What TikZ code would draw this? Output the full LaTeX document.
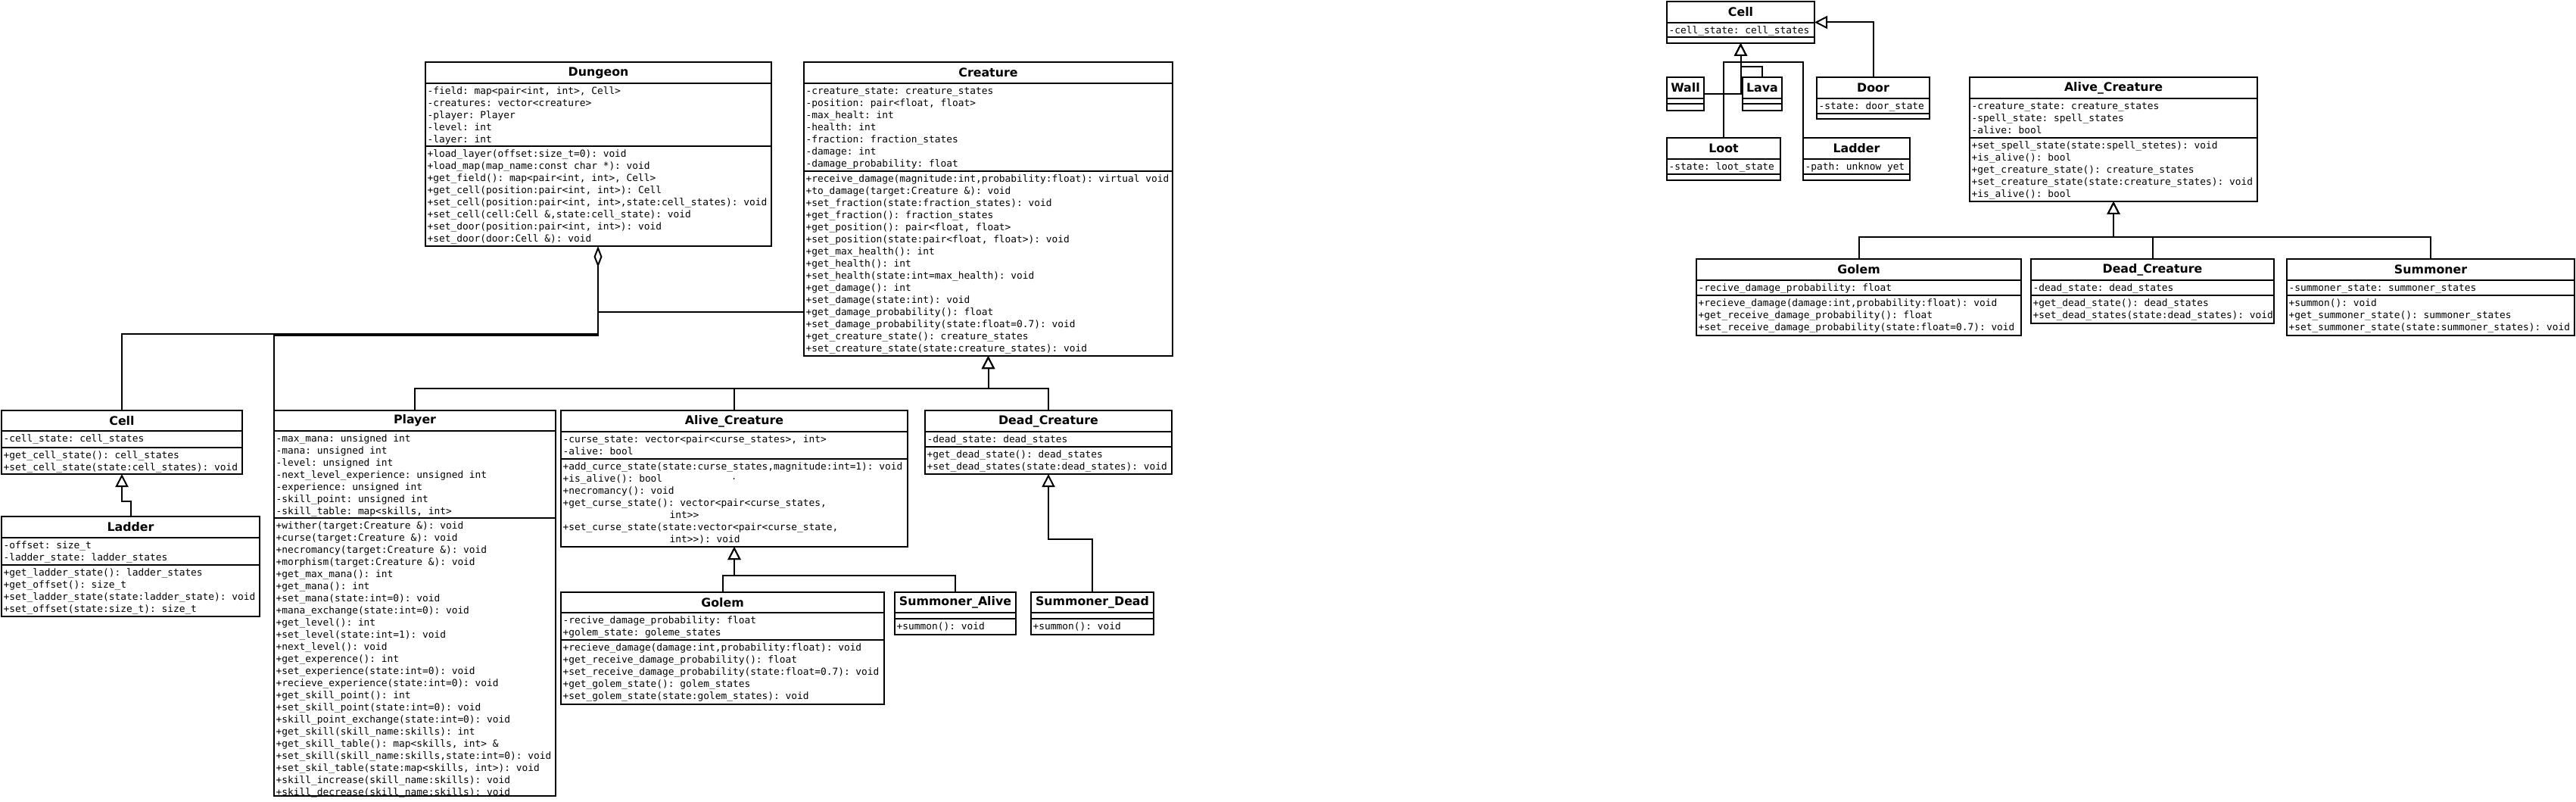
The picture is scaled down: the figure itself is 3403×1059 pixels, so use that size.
\documentclass[tikz,border=0pt]{standalone}
\usepackage{fontspec}
\newfontfamily\monof{DejaVu Sans Mono}
\newfontfamily\titlef{DejaVu Sans}
\usetikzlibrary{arrows.meta,fit}
\newcommand{\firststrut}{\rule{0pt}{12pt}}
\tikzset{
  umlbox/.style={draw, line width=2.3pt, inner sep=0pt, outer sep=0pt, rectangle},
  sepline/.style={line width=2.3pt},
  titletext/.style={inner sep=0pt, font=\titlef\bfseries\fontsize{15.8}{18}\selectfont},
  listtext/.style={anchor=north west, align=left, inner sep=0pt, font=\monof\fontsize{12.85}{16}\selectfont\frenchspacing},
  conn/.style={line width=2pt},
  inh/.style={conn, -{Triangle[length=17pt,width=17pt,fill=white]}},
  agg/.style={conn, {Diamond[length=28pt,width=11pt,fill=white]}-},
}
% #1 name, #2 x1,y1, #3 x2,y2, #4 title separator y, #5 attribute separator y, #6 title, #7 attributes, #8 methods
\newcommand{\umlclass}[8]{%
  \node[umlbox, fit={(#2) (#3)}] (#1) {};
  \draw[sepline] (#1.west |- 0,#4) -- (#1.east |- 0,#4);
  \draw[sepline] (#1.west |- 0,#5) -- (#1.east |- 0,#5);
  \path (#1.north) -- (#1.north |- 0,#4) node[midway, titletext] (#1-t) {#6};
  \pgfmathsetmacro\umlya{#4+2}%
  \pgfmathsetmacro\umlyb{#5+2}%
  \node[listtext, xshift=2.5pt] (#1-a) at (#1.west |- 0,\umlya) {\firststrut#7};
  \node[listtext, xshift=2.5pt] (#1-m) at (#1.west |- 0,\umlyb) {\firststrut#8};
}
\begin{document}
\begin{tikzpicture}[x=1pt,y=-1pt]
\fill[white] (0,0) rectangle (3403,1059);
\useasboundingbox (0,0) rectangle (3403,1059);

% ---------------- left diagram ----------------
\umlclass{dng}{562,82}{1019,325}{110}{193}{Dungeon}
{-field: map<pair<int, int>, Cell>\\
-creatures: vector<creature>\\
-player: Player\\
-level: int\\
-layer: int}
{+load\_layer(offset:size\_t=0): void\\
+load\_map(map\_name:const char *): void\\
+get\_field(): map<pair<int, int>, Cell>\\
+get\_cell(position:pair<int, int>): Cell\\
+set\_cell(position:pair<int, int>,state:cell\_states): void\\
+set\_cell(cell:Cell \&,state:cell\_state): void\\
+set\_door(position:pair<int, int>): void\\
+set\_door(door:Cell \&): void}

\umlclass{crt}{1062,82}{1549,470}{110}{226}{Creature}
{-creature\_state: creature\_states\\
-position: pair<float, float>\\
-max\_healt: int\\
-health: int\\
-fraction: fraction\_states\\
-damage: int\\
-damage\_probability: float}
{+receive\_damage(magnitude:int,probability:float): virtual void\\
+to\_damage(target:Creature \&): void\\
+set\_fraction(state:fraction\_states): void\\
+get\_fraction(): fraction\_states\\
+get\_position(): pair<float, float>\\
+set\_position(state:pair<float, float>): void\\
+get\_max\_health(): int\\
+get\_health(): int\\
+set\_health(state:int=max\_health): void\\
+get\_damage(): int\\
+set\_damage(state:int): void\\
+get\_damage\_probability(): float\\
+set\_damage\_probability(state:float=0.7): void\\
+get\_creature\_state(): creature\_states\\
+set\_creature\_state(state:creature\_states): void}

\umlclass{cellL}{2,542}{320,626}{569}{591}{Cell}
{-cell\_state: cell\_states}
{+get\_cell\_state(): cell\_states\\
+set\_cell\_state(state:cell\_states): void}

\umlclass{ladL}{2,682}{343,814}{710}{746}{Ladder}
{-offset: size\_t\\
-ladder\_state: ladder\_states}
{+get\_ladder\_state(): ladder\_states\\
+get\_offset(): size\_t\\
+set\_ladder\_state(state:ladder\_state): void\\
+set\_offset(state:size\_t): size\_t}

\umlclass{ply}{362,542}{734,1051}{569}{684}{Player}
{-max\_mana: unsigned int\\
-mana: unsigned int\\
-level: unsigned int\\
-next\_level\_experience: unsigned int\\
-experience: unsigned int\\
-skill\_point: unsigned int\\
-skill\_table: map<skills, int>}
{+wither(target:Creature \&): void\\
+curse(target:Creature \&): void\\
+necromancy(target:Creature \&): void\\
+morphism(target:Creature \&): void\\
+get\_max\_mana(): int\\
+get\_mana(): int\\
+set\_mana(state:int=0): void\\
+mana\_exchange(state:int=0): void\\
+get\_level(): int\\
+set\_level(state:int=1): void\\
+next\_level(): void\\
+get\_experence(): int\\
+set\_experience(state:int=0): void\\
+recieve\_experience(state:int=0): void\\
+get\_skill\_point(): int\\
+set\_skill\_point(state:int=0): void\\
+skill\_point\_exchange(state:int=0): void\\
+get\_skill(skill\_name:skills): int\\
+get\_skill\_table(): map<skills, int> \&\\
+set\_skill(skill\_name:skills,state:int=0): void\\
+set\_skil\_table(state:map<skills, int>): void\\
+skill\_increase(skill\_name:skills): void\\
+skill\_decrease(skill\_name:skills): void}

\umlclass{acL}{741,542}{1199,722}{570}{606}{Alive\_Creature}
{-curse\_state: vector<pair<curse\_states>, int>\\
-alive: bool}
{+add\_curce\_state(state:curse\_states,magnitude:int=1): void\\
+is\_alive(): bool\\
+necromancy(): void\\
+get\_curse\_state(): vector<pair<curse\_states,\\
\hspace*{141pt}int>>\\
+set\_curse\_state(state:vector<pair<curse\_state,\\
\hspace*{141pt}int>>): void}
\fill (969.5,632) circle (1pt);

\umlclass{dcL}{1222,542}{1548,626}{570}{590}{Dead\_Creature}
{-dead\_state: dead\_states}
{+get\_dead\_state(): dead\_states\\
+set\_dead\_states(state:dead\_states): void}

\umlclass{glL}{741,782}{1168,930}{809}{845}{Golem}
{-recive\_damage\_probability: float\\
+golem\_state: goleme\_states}
{+recieve\_damage(damage:int,probability:float): void\\
+get\_receive\_damage\_probability(): float\\
+set\_receive\_damage\_probability(state:float=0.7): void\\
+get\_golem\_state(): golem\_states\\
+set\_golem\_state(state:golem\_states): void}

\umlclass{saL}{1182,782}{1342,838}{809}{817}{Summoner\_Alive}
{}
{+summon(): void}

\umlclass{sdL}{1362,782}{1524,838}{809}{817}{Summoner\_Dead}
{}
{+summon(): void}

% connectors, left diagram
\coordinate (dngAgg) at (790,353);
\draw[agg] (dng.south -| 790,0) -- (790,441) -- (cellL.north |- 0,441) -- (cellL.north);
\draw[conn] (dngAgg) -- (790,443) -- (ply.north west |- 0,443) -- (ply.north west);
\draw[conn] (dngAgg) |- (crt.west |- 0,412);

\draw[inh] (ply.north) -- (ply.north |- 0,513) -- (crt.south |- 0,513) -- (crt.south);
\draw[inh] (acL.north) -- (acL.north |- 0,513) -- (crt.south |- 0,513) -- (crt.south);
\draw[inh] (dcL.north) -- (dcL.north |- 0,513) -- (crt.south |- 0,513) -- (crt.south);

\draw[inh] (ladL.north) -- (ladL.north |- 0,662) -- (cellL.south |- 0,662) -- (cellL.south);

\draw[inh] (glL.north) -- (glL.north |- 0,760) -- (acL.south |- 0,760) -- (acL.south);
\draw[inh] (saL.north) -- (saL.north |- 0,760) -- (acL.south |- 0,760) -- (acL.south);

\draw[inh] (sdL.north) -- (sdL.north |- 0,712) -- (dcL.south |- 0,712) -- (dcL.south);

% ---------------- right diagram ----------------
\umlclass{cellR}{2202,2}{2397,57}{30}{49}{Cell}
{-cell\_state: cell\_states}
{}

\umlclass{wall}{2202,102}{2251,146}{130}{137}{Wall}{}{}
\umlclass{lava}{2302,102}{2354,146}{130}{137}{Lava}{}{}

\umlclass{door}{2400,102}{2549,157}{130}{150}{Door}
{-state: door\_state}
{}

\umlclass{loot}{2202,182}{2352,238}{210}{230}{Loot}
{-state: loot\_state}
{}

\umlclass{ladR}{2382,182}{2523,238}{210}{230}{Ladder}
{-path: unknow yet}
{}

\umlclass{acR}{2602,102}{2982,266}{130}{182}{Alive\_Creature}
{-creature\_state: creature\_states\\
-spell\_state: spell\_states\\
-alive: bool}
{+set\_spell\_state(state:spell\_stetes): void\\
+is\_alive(): bool\\
+get\_creature\_state(): creature\_states\\
+set\_creature\_state(state:creature\_states): void\\
+is\_alive(): bool}

\umlclass{glR}{2241,342}{2670,443}{370}{390}{Golem}
{-recive\_damage\_probability: float}
{+recieve\_damage(damage:int,probability:float): void\\
+get\_receive\_damage\_probability(): float\\
+set\_receive\_damage\_probability(state:float=0.7): void}

\umlclass{dcR}{2683,342}{3004,427}{370}{390}{Dead\_Creature}
{-dead\_state: dead\_states}
{+get\_dead\_state(): dead\_states\\
+set\_dead\_states(state:dead\_states): void}

\umlclass{smR}{3021,342}{3401,443}{370}{390}{Summoner}
{-summoner\_state: summoner\_states}
{+summon(): void\\
+get\_summoner\_state(): summoner\_states\\
+set\_summoner\_state(state:summoner\_states): void}

% connectors, right diagram
\draw[inh] (wall.east) -- (cellR.south |- wall.east) -- (cellR.south);
\draw[inh] (lava.north) -- (lava.north |- 0,88) -- (cellR.south |- 0,88) -- (cellR.south);
\draw[inh] (loot.north) -- (loot.north |- 0,82) -- (cellR.south |- 0,82) -- (cellR.south);
\draw[inh] (ladR.north west) -- (ladR.north west |- 0,82) -- (cellR.south |- 0,82) -- (cellR.south);
\draw[inh] (door.north) |- (cellR.east);

\draw[inh] (glR.north) -- (glR.north |- 0,313) -- (acR.south |- 0,313) -- (acR.south);
\draw[inh] (dcR.north) -- (dcR.north |- 0,313) -- (acR.south |- 0,313) -- (acR.south);
\draw[inh] (smR.north) -- (smR.north |- 0,313) -- (acR.south |- 0,313) -- (acR.south);
\end{tikzpicture}
\end{document}
